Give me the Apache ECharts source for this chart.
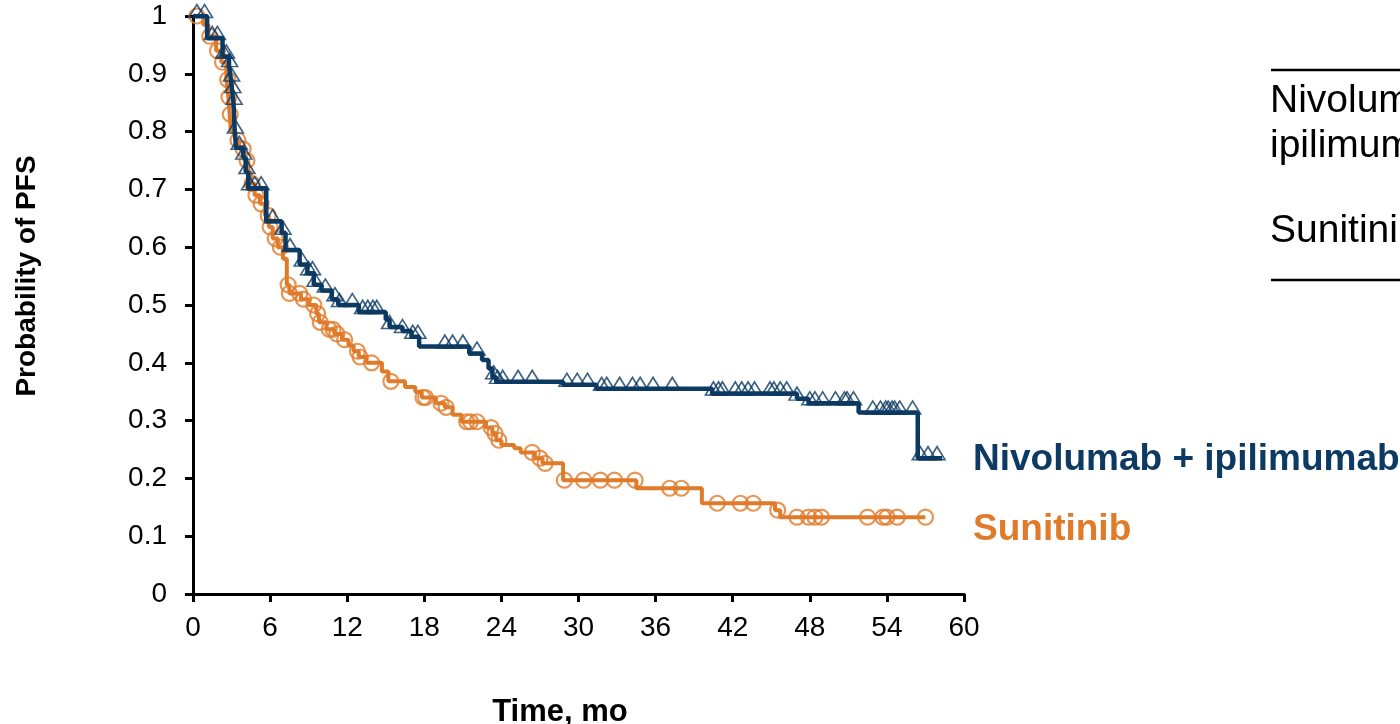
<!DOCTYPE html>
<html>
<head>
<meta charset="utf-8">
<script src="https://cdn.jsdelivr.net/npm/echarts@6/dist/echarts.min.js"></script>
<style>
html,body{margin:0;padding:0;background:#fff;}
#chart{width:1400px;height:724px;}
</style>
</head>
<body>
<div id="chart"></div>
<script>
// ---- data ----
const nivoTimes = [0,1.1,2.3,2.8,2.95,3.05,3.15,3.25,3.35,3.9,4.1,4.3,5.7,6.9,7.2,8.3,8.9,9.4,10.0,10.8,11.3,12.9,15.0,15.3,16.3,17.0,17.6,21.5,22.5,23.0,23.3,23.6,28.8,31.4,40.4,47.0,47.9,51.8,56.4,58.3];
const nivoSurv  = [1,0.962,0.93,0.915,0.89,0.87,0.85,0.80,0.772,0.755,0.73,0.702,0.645,0.625,0.595,0.57,0.555,0.535,0.525,0.51,0.50,0.488,0.475,0.462,0.455,0.445,0.428,0.416,0.405,0.39,0.375,0.367,0.362,0.355,0.347,0.338,0.33,0.314,0.235,0.235];
const nivoCensored = [0.3,0.9,1.5,1.9,2.4,2.6,2.85,3.0,3.1,3.2,3.3,3.6,3.95,4.2,4.4,4.8,5.3,6.2,7.0,7.55,8.5,9.0,9.3,9.5,10.3,11.05,11.4,12.4,13.2,13.6,14.0,14.3,15.3,16.3,17.1,17.5,19.6,20.2,21.0,22.1,23.4,23.7,24.1,25.3,26.4,29.1,29.9,30.7,31.8,32.2,33.2,34.2,34.8,35.8,37.3,40.5,40.9,41.2,42.2,42.7,43.2,43.7,44.9,45.2,45.7,46.2,47.0,48.0,48.4,49.0,50.0,50.7,50.9,51.4,52.9,53.5,53.9,54.1,54.4,54.6,55.0,56.0,56.6,57.2,57.9];

const suniTimes = [0,0.8,1.2,1.8,2.2,2.6,2.75,2.85,2.95,3.3,3.6,4.0,4.3,4.5,4.8,5.2,5.6,5.9,6.2,6.6,7.0,7.3,7.5,8.4,9.0,9.6,9.8,10.4,11.0,11.6,12.1,12.5,12.9,13.5,14.7,15.2,16.5,17.3,17.8,18.9,19.6,20.2,20.9,22.8,23.3,23.6,24.0,25.0,25.5,26.6,27.2,28.8,34.5,39.6,45.3,45.7,57.0];
const suniSurv  = [1,0.985,0.965,0.94,0.92,0.89,0.86,0.83,0.80,0.785,0.77,0.75,0.73,0.71,0.69,0.675,0.655,0.635,0.615,0.60,0.58,0.535,0.52,0.51,0.50,0.485,0.47,0.458,0.45,0.44,0.43,0.42,0.41,0.40,0.385,0.368,0.358,0.35,0.34,0.33,0.323,0.31,0.298,0.288,0.278,0.266,0.258,0.252,0.245,0.235,0.226,0.197,0.183,0.157,0.145,0.133,0.133];
const suniCensored = [0.3,1.3,1.9,2.3,2.7,2.8,2.9,3.5,3.9,4.2,4.6,4.9,5.3,5.85,6.0,6.4,6.8,7.4,7.5,8.3,8.6,9.4,9.7,9.9,10.6,10.9,11.2,11.8,12.8,13.0,13.9,15.4,17.9,18.1,19.3,19.7,21.3,21.6,22.1,23.2,23.5,23.8,26.4,27.0,27.4,28.9,30.4,31.7,32.8,34.4,37.1,38.0,40.8,42.6,43.6,45.5,47.0,47.9,48.4,48.9,52.5,53.7,54.0,54.8,57.0];

const seriesNames = ['Nivolumab + ipilimumab', 'Sunitinib'];
const xTitle = 'Time, mo';
const yTitle = 'Probability of PFS';

// ---- helpers ----
function zip(a, b){ return a.map((v,i)=>[v,b[i]]); }
function survAt(times, surv, t){
  let s = surv[0];
  for (let i=0;i<times.length;i++){ if (times[i] <= t) s = surv[i]; else break; }
  return s;
}
function censorPoints(times, surv, cens){ return cens.map(t=>[t, survAt(times, surv, t)]); }

const NAVY = '#0d3a63';
const ORANGE = '#e07b2a';
const FONT = 'Liberation Sans, Arial, sans-serif';

const chart = echarts.init(document.getElementById('chart'), null, {renderer:'canvas'});
chart.setOption({
  animation: false,
  backgroundColor: '#ffffff',
  grid: {left:193, right:436, top:16, bottom:130},
  xAxis: {
    type:'value', min:0, max:60, interval:6,
    axisLine:{show:true, onZero:false, lineStyle:{color:'#000', width:3}},
    axisTick:{show:true, length:8, lineStyle:{color:'#000', width:3}},
    splitLine:{show:false},
    axisLabel:{color:'#000', fontSize:28, fontFamily:FONT, margin:20}
  },
  yAxis: {
    type:'value', min:0, max:1, interval:0.1,
    axisLine:{show:true, onZero:false, lineStyle:{color:'#000', width:3}},
    axisTick:{show:true, length:8, lineStyle:{color:'#000', width:3}},
    splitLine:{show:false},
    axisLabel:{color:'#000', fontSize:28, fontFamily:FONT, margin:26,
      formatter: v => String(parseFloat(v.toFixed(1)))}
  },
  series: [
    {
      name: seriesNames[1], type:'line', step:'end', data: zip(suniTimes, suniSurv),
      symbol:'none', lineStyle:{color:ORANGE, width:4}, z:2
    },
    {
      name: seriesNames[1]+' censored', type:'scatter',
      data: censorPoints(suniTimes, suniSurv, suniCensored),
      symbol:'circle', symbolSize:15,
      itemStyle:{color:'rgba(255,255,255,0)', borderColor:ORANGE, borderWidth:2.2}, z:3
    },
    {
      name: seriesNames[0], type:'line', step:'end', data: zip(nivoTimes, nivoSurv),
      symbol:'none', lineStyle:{color:NAVY, width:4.5}, z:4
    },
    {
      name: seriesNames[0]+' censored', type:'scatter',
      data: censorPoints(nivoTimes, nivoSurv, nivoCensored),
      symbol:'triangle', symbolSize:[16,13], symbolOffset:[0,-5],
      itemStyle:{color:'rgba(255,255,255,0)', borderColor:NAVY, borderWidth:1.6}, z:5
    }
  ],
  graphic: [
    {type:'text', style:{text:xTitle, x:560, y:712, font:'bold 31px '+FONT, fill:'#000', textAlign:'center', verticalAlign:'middle', textVerticalAlign:'middle'}},
    {type:'text', rotation:Math.PI/2, x:27, y:276, style:{text:yTitle, x:0, y:0, font:'bold 28px '+FONT, fill:'#000', textAlign:'center', verticalAlign:'middle', textVerticalAlign:'middle'}},
    {type:'text', style:{text:seriesNames[0], x:973, y:460, font:'bold 37px '+FONT, fill:NAVY, textAlign:'left', verticalAlign:'middle', textVerticalAlign:'middle'}},
    {type:'text', style:{text:seriesNames[1], x:973, y:530, font:'bold 37px '+FONT, fill:ORANGE, textAlign:'left', verticalAlign:'middle', textVerticalAlign:'middle'}},
    {type:'line', shape:{x1:1271, y1:70, x2:1400, y2:70}, style:{stroke:'#000', lineWidth:2.5}},
    {type:'line', shape:{x1:1271, y1:280, x2:1400, y2:280}, style:{stroke:'#000', lineWidth:2.5}},
    {type:'text', style:{text:'Nivolumab +', x:1270, y:101, font:'39px '+FONT, fill:'#000', textAlign:'left', verticalAlign:'middle', textVerticalAlign:'middle'}},
    {type:'text', style:{text:'ipilimumab', x:1270, y:146, font:'39px '+FONT, fill:'#000', textAlign:'left', verticalAlign:'middle', textVerticalAlign:'middle'}},
    {type:'text', style:{text:seriesNames[1], x:1270, y:231, font:'39px '+FONT, fill:'#000', textAlign:'left', verticalAlign:'middle', textVerticalAlign:'middle'}}
  ]
});
</script>
</body>
</html>
